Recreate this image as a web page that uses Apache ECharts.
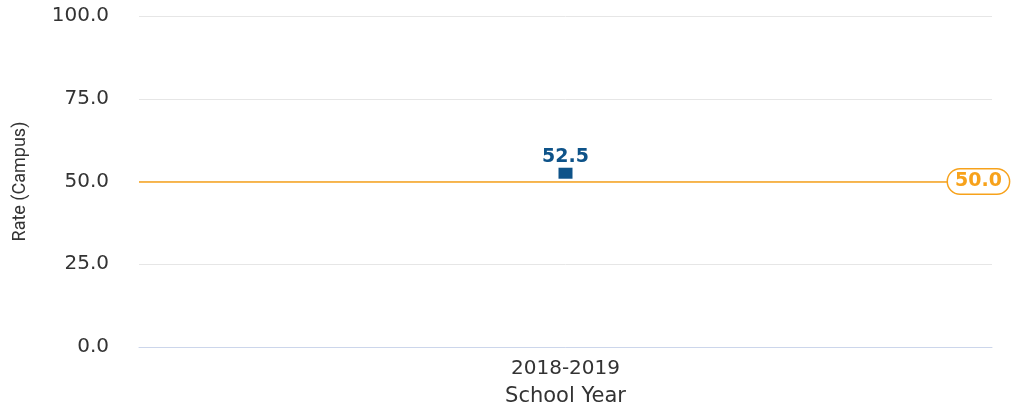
<!DOCTYPE html>
<html>
<head>
<meta charset="utf-8">
<script src="https://cdn.jsdelivr.net/npm/echarts@6/dist/echarts.min.js"></script>
<style>
  html, body { margin: 0; padding: 0; background: #fff; }
  #chart { width: 1012px; height: 411px; }
</style>
</head>
<body>
<div id="chart"></div>
<script>
// data
var years = ['2018-2019'];
var campusRate = [52.5];
var targetRate = 50.0;

var myChart = echarts.init(document.getElementById('chart'));

var orange = '#f7a21b';
var blue = '#0e5389';

var option = {
    animation: false,
    grid: {
        left: 139,
        right: 20,
        top: 16,
        bottom: 64,
        outerBoundsMode: 'none'
    },
    xAxis: {
        type: 'category',
        data: years,
        name: 'School Year',
        nameLocation: 'middle',
        nameGap: 39,
        nameTextStyle: { fontFamily: 'DejaVu Sans', fontSize: 21, color: '#333' },
        axisLine: { lineStyle: { color: '#ccd6eb', width: 1 } },
        axisTick: { show: false },
        axisLabel: { fontFamily: 'DejaVu Sans', fontSize: 20, color: '#333', margin: 12 }
    },
    yAxis: {
        type: 'value',
        min: 0,
        max: 100,
        interval: 25,
        name: 'Rate (Campus)',
        nameLocation: 'middle',
        nameGap: 110,
        nameTextStyle: { fontFamily: 'Roboto', fontSize: 18, color: '#333' },
        axisLine: { show: false },
        axisTick: { show: false },
        splitLine: { lineStyle: { color: '#e6e6e6' } },
        axisLabel: {
            fontFamily: 'DejaVu Sans',
            fontSize: 20,
            color: '#333',
            margin: 30,
            formatter: function (v) { return v.toFixed(1); }
        }
    },
    series: [{
        type: 'scatter',
        data: campusRate,
        symbol: 'rect',
        symbolSize: [14, 11],
        itemStyle: { color: blue, opacity: 1 },
        label: {
            show: true,
            position: 'top',
            distance: 1,
            fontFamily: 'DejaVu Sans',
            fontSize: 19,
            fontWeight: 'bold',
            color: blue,
            formatter: function (p) { return p.value.toFixed(1); }
        },
        markLine: {
            silent: true,
            symbol: 'none',
            lineStyle: { color: orange, type: 'solid', width: 1.5 },
            label: {
                show: true,
                position: 'end',
                distance: 0,
                offset: [-44, 0],
                formatter: function (p) { return p.value.toFixed(1); },
                fontFamily: 'DejaVu Sans',
                fontSize: 19,
                fontWeight: 'bold',
                color: orange,
                backgroundColor: '#fff',
                borderColor: orange,
                borderWidth: 1.5,
                borderRadius: 13,
                padding: [3, 7, 2, 7]
            },
            data: [{ yAxis: targetRate }]
        }
    }]
};

myChart.setOption(option);
</script>
</body>
</html>
